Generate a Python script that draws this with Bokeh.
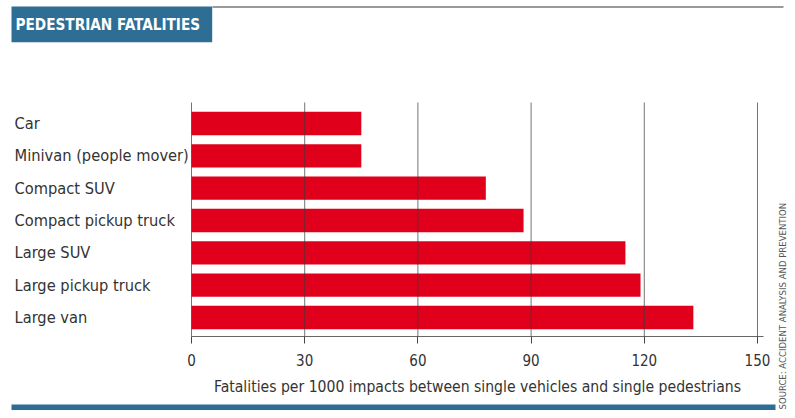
import math
from bokeh.plotting import figure
from bokeh.models import Range1d, LinearAxis, FixedTicker
from bokeh.embed import file_html
from bokeh.resources import INLINE
from bokeh.core.properties import value

categories = ["Car", "Minivan (people mover)", "Compact SUV", "Compact pickup truck",
              "Large SUV", "Large pickup truck", "Large van"]
fatalities = [45, 45, 78, 88, 115, 119, 133]
tick_values = [0, 30, 60, 90, 120, 150]
title_text = "PEDESTRIAN FATALITIES"
x_label = "Fatalities per 1000 impacts between single vehicles and single pedestrians"
source_text = "SOURCE: ACCIDENT ANALYSIS AND PREVENTION"

FONT = "'Liberation Sans Narrow', 'DejaVu Sans Condensed', 'Liberation Sans', sans-serif"
RED = "#e0001b"
BLUE = "#2e6e95"

W, H = 787, 410
X0_PX, PX_PER_UNIT = 191, 3.7733
Y0_PX, PX_PER_ROW = 123, 32.333


def xd(px):
    return (px - X0_PX) / PX_PER_UNIT


def yd(px):
    return (px - Y0_PX) / PX_PER_ROW


rows = list(range(len(categories)))

p = figure(width=W, height=H, output_backend="svg", toolbar_location=None,
           x_range=Range1d(xd(0), xd(W)), y_range=Range1d(yd(H), yd(0)),
           x_axis_type=None, y_axis_type=None, min_border=0)
p.outline_line_color = None
p.background_fill_color = "white"

# bars
p.hbar(y=rows, left=0, right=fatalities, height=0.72, fill_color=RED, line_color=None)

# vertical grid lines (drawn over bars)
p.segment(x0=tick_values, x1=tick_values, y0=[yd(102)] * len(tick_values),
          y1=[yd(336)] * len(tick_values), line_color="#3a3a3a", line_alpha=0.7, line_width=1)

# x axis
ax = LinearAxis(fixed_location=yd(336), ticker=FixedTicker(ticks=tick_values),
                bounds=(0, xd(763)))
ax.axis_line_color = "#666666"
ax.axis_line_width = 1.2
ax.major_tick_out = 7
ax.major_tick_in = 0
ax.major_tick_line_color = "#444444"
ax.minor_tick_line_color = None
ax.major_label_standoff = 10
ax.major_label_text_font = FONT
ax.major_label_text_font_size = "15px"
ax.major_label_text_color = "#333333"
ax.axis_label = x_label
ax.axis_label_standoff = 9
ax.axis_label_text_font = FONT
ax.axis_label_text_font_size = "15.6px"
ax.axis_label_text_font_style = "normal"
ax.axis_label_text_color = "#333333"
p.add_layout(ax, "below")

# category labels
p.text(x=[xd(14)] * len(categories), y=rows, text=categories, text_align="left",
       text_baseline="middle", text_font=value(FONT), text_font_size="16.3px",
       text_color="#333333")

# header box and title
p.quad(left=[xd(11)], right=[xd(211.7)], top=[yd(6)], bottom=[yd(41.7)],
       fill_color=BLUE, line_color=None)
p.text(x=[xd(15)], y=[yd(24.5)], text=[title_text], text_align="left",
       text_baseline="middle", text_font=value(FONT), text_font_size="15.2px",
       text_font_style="bold", text_color="white")
p.segment(x0=[xd(212)], x1=[xd(783)], y0=[yd(6.5)], y1=[yd(6.5)],
          line_color="#777777", line_width=1.5)

# bottom band
p.quad(left=[xd(11)], right=[xd(775)], top=[yd(404)], bottom=[yd(H)],
       fill_color=BLUE, line_color=None)

# source
p.text(x=[xd(782)], y=[yd(409)], text=[source_text], angle=math.pi / 2,
       text_align="left", text_baseline="middle", text_font=value(FONT),
       text_font_size="9.5px", text_color="#555555")

open("out.html", "w").write(file_html(p, INLINE))
